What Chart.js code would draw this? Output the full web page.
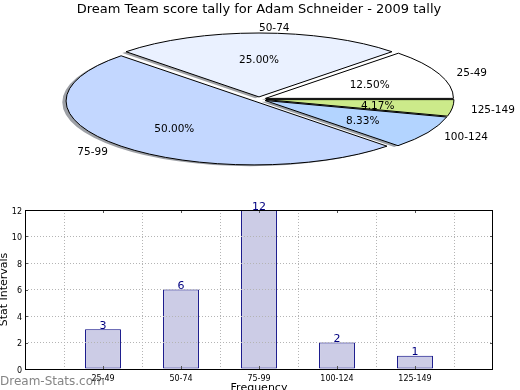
<!DOCTYPE html>
<html><head><meta charset="utf-8">
<script src="https://cdn.jsdelivr.net/npm/chart.js@4.4.1/dist/chart.umd.min.js"></script>
<style>
html,body{margin:0;padding:0;width:520px;height:390px;overflow:hidden;background:#fff;}
#pieBox{position:absolute;left:0;top:0;width:520px;height:200px;}
#barBox{position:absolute;left:0;top:200px;width:520px;height:200px;}
</style></head><body>
<div id="pieBox"><canvas id="pie" width="520" height="200"></canvas></div>
<div id="barBox"><canvas id="bar" width="520" height="200"></canvas></div>
<script>
// ---- data ----
const chartTitle = 'Dream Team score tally for Adam Schneider - 2009 tally';
const categories = ['25-49', '50-74', '75-99', '100-124', '125-149'];
const counts = [3, 6, 12, 2, 1];
const yAxisTitle = 'Stat Intervals';
const xAxisTitle = 'Frequency';
const watermark = 'Dream-Stats.com';

// ---- styles ----
const pieColors = ['#ffffff', '#eaf1ff', '#c3d7ff', '#b3d4ff', '#ccea8a'];
const FONT = 'DejaVu Sans';
const PIE = { cy: 99.3, k: -0.34, explode: 7, shadow: 0.02, labelDist: 1.1, pctDist: 0.6, radius: 188, textDy: 1.5 };

const total = counts.reduce((a, b) => a + b, 0);
const pctLabels = counts.map(c => (c / total * 100).toFixed(2) + '%');

function hexToRgb(h) { const n = parseInt(h.slice(1), 16); return [(n >> 16) & 255, (n >> 8) & 255, n & 255]; }
function shadowColor(h) { const [r, g, b] = hexToRgb(h); return `rgba(${Math.round(r*0.3)},${Math.round(g*0.3)},${Math.round(b*0.3)},0.5)`; }
function toScreenY(arc, y) { return PIE.cy + PIE.k * (y - arc.y); }

function patchArc(arc) {
  if (arc.__exploded) return;
  const base = arc.draw;
  arc.draw = function (ctx, area) {
    const mid = (this.startAngle + this.endAngle) / 2;
    ctx.save();
    ctx.translate(Math.cos(mid) * PIE.explode, Math.sin(mid) * PIE.explode);
    base.call(this, ctx, area);
    ctx.beginPath();
    ctx.moveTo(this.x, this.y);
    ctx.arc(this.x, this.y, this.outerRadius, this.startAngle, this.endAngle);
    ctx.closePath();
    ctx.setTransform(1, 0, 0, 1, 0, 0);
    ctx.lineWidth = 1;
    ctx.strokeStyle = '#000';
    ctx.stroke();
    ctx.restore();
  };
  arc.__exploded = true;
}

const ellipsePie = {
  id: 'ellipsePie',
  beforeDatasetsDraw(chart) {
    const ctx = chart.ctx;
    const arcs = chart.getDatasetMeta(0).data;
    arcs.forEach(patchArc);
    const a0 = arcs[0];
    ctx.save();
    ctx.translate(0, PIE.cy);
    ctx.scale(1, PIE.k);
    ctx.translate(0, -a0.y);
    arcs.forEach((arc, i) => {
      const mid = (arc.startAngle + arc.endAngle) / 2;
      const R = arc.outerRadius;
      const cx = arc.x + Math.cos(mid) * PIE.explode - PIE.shadow * R;
      const cy = arc.y + Math.sin(mid) * PIE.explode - PIE.shadow * R;
      ctx.beginPath();
      ctx.moveTo(cx, cy);
      ctx.arc(cx, cy, R, arc.startAngle, arc.endAngle);
      ctx.closePath();
      ctx.fillStyle = shadowColor(pieColors[i]);
      ctx.fill();
    });
  },
  afterDatasetsDraw(chart) {
    const ctx = chart.ctx;
    ctx.restore();
    const arcs = chart.getDatasetMeta(0).data;
    ctx.save();
    ctx.font = '10.5px "' + FONT + '"';
    ctx.fillStyle = '#000';
    ctx.textBaseline = 'middle';
    arcs.forEach((arc, i) => {
      const mid = (arc.startAngle + arc.endAngle) / 2;
      const c = Math.cos(mid), s = Math.sin(mid);
      const R = arc.outerRadius;
      const ex = arc.x + c * PIE.explode, ey = arc.y + s * PIE.explode;
      ctx.textAlign = (Math.abs(c) < 1e-9 || c > 0) ? 'left' : 'right';
      ctx.fillText(chart.data.labels[i], ex + PIE.labelDist * R * c, toScreenY(arc, ey + PIE.labelDist * R * s) + PIE.textDy);
      ctx.textAlign = 'center';
      ctx.fillText(pctLabels[i], ex + PIE.pctDist * R * c, toScreenY(arc, ey + PIE.pctDist * R * s) + PIE.textDy);
    });
    ctx.restore();
  }
};

new Chart(document.getElementById('pie'), {
  type: 'pie',
  data: {
    labels: categories,
    datasets: [{ data: counts, backgroundColor: pieColors, borderWidth: 0, clip: false }]
  },
  options: {
    responsive: false, animation: false, events: [],
    rotation: 90,
    radius: PIE.radius,
    layout: { padding: { left: 0, right: 2, top: 0, bottom: 0 } },
    plugins: {
      legend: { display: false }, tooltip: { enabled: false },
      title: { display: true, text: chartTitle, color: '#000', font: { family: FONT, size: 13, weight: 'normal' }, padding: { top: 1.5, bottom: 0 } }
    }
  },
  plugins: [ellipsePie]
});

const barExtras = {
  id: 'barExtras',
  afterDraw(chart) {
    const ctx = chart.ctx;
    const { left, right, top, bottom } = chart.chartArea;
    const xs = chart.scales.x, ys = chart.scales.y;
    ctx.save();
    // inner tick marks
    ctx.strokeStyle = '#555';
    ctx.lineWidth = 1;
    ctx.beginPath();
    ys.ticks.forEach(t => {
      const y = Math.round(ys.getPixelForValue(t.value)) + 0.5;
      ctx.moveTo(left, y); ctx.lineTo(left + 3, y);
      ctx.moveTo(right, y); ctx.lineTo(right - 3, y);
    });
    categories.forEach((c, i) => {
      const x = Math.round(xs.getPixelForValue(i + 1)) + 0.5;
      ctx.moveTo(x, bottom); ctx.lineTo(x, bottom - 3);
      ctx.moveTo(x, top); ctx.lineTo(x, top + 3);
    });
    ctx.stroke();
    // frame
    ctx.strokeStyle = '#000';
    ctx.strokeRect(Math.round(left) + 0.5, Math.round(top) + 0.5, Math.round(right - left) - 1, Math.round(bottom - top));
    // value labels
    const meta = chart.getDatasetMeta(0);
    ctx.font = '11px "' + FONT + '"';
    ctx.fillStyle = '#000080';
    ctx.textAlign = 'center';
    ctx.textBaseline = 'alphabetic';
    counts.forEach((v, i) => {
      const el = meta.data[i + 1];
      ctx.fillText(String(v), el.x, el.y - 0.5);
    });
    // watermark
    ctx.font = '12px "' + FONT + '"';
    ctx.fillStyle = 'rgba(110,110,110,0.85)';
    ctx.textAlign = 'left';
    ctx.fillText(watermark, 0, 184.5);
    ctx.restore();
  }
};

const gridStyle = { z: 1, color: '#b4b4b4', drawTicks: false, lineWidth: 1 };
const borderStyle = { display: false, dash: [1, 2] };

new Chart(document.getElementById('bar'), {
  type: 'bar',
  data: {
    labels: ['', ...categories, ''],
    datasets: [{
      data: [null, ...counts, null],
      backgroundColor: '#ccccE6', borderColor: '#000080', borderWidth: 1, borderSkipped: false,
      barPercentage: 0.46, categoryPercentage: 1
    }]
  },
  options: {
    responsive: false, animation: false, events: [],
    layout: { padding: { top: 10, right: 27, left: 0, bottom: 0 } },
    plugins: { legend: { display: false }, tooltip: { enabled: false } },
    scales: {
      x: {
        offset: false,
        grid: gridStyle, border: borderStyle,
        ticks: { font: { family: FONT, size: 8 }, color: '#000', padding: 5, autoSkip: false, maxRotation: 0 },
        title: { display: true, text: xAxisTitle, color: '#000', font: { family: FONT, size: 11 }, padding: { top: 0, bottom: 5 } },
        afterFit(s) { s.height = 31; }
      },
      y: {
        min: 0, max: 12,
        grid: gridStyle, border: borderStyle,
        ticks: { stepSize: 2, font: { family: FONT, size: 8 }, color: '#000', padding: 3, labelOffset: 1.5 },
        title: { display: true, text: yAxisTitle, color: '#000', font: { family: FONT, size: 11 }, padding: { top: -2, bottom: 0 } },
        afterFit(s) { s.width = 25; }
      }
    }
  },
  plugins: [barExtras]
});
</script>
</body></html>
